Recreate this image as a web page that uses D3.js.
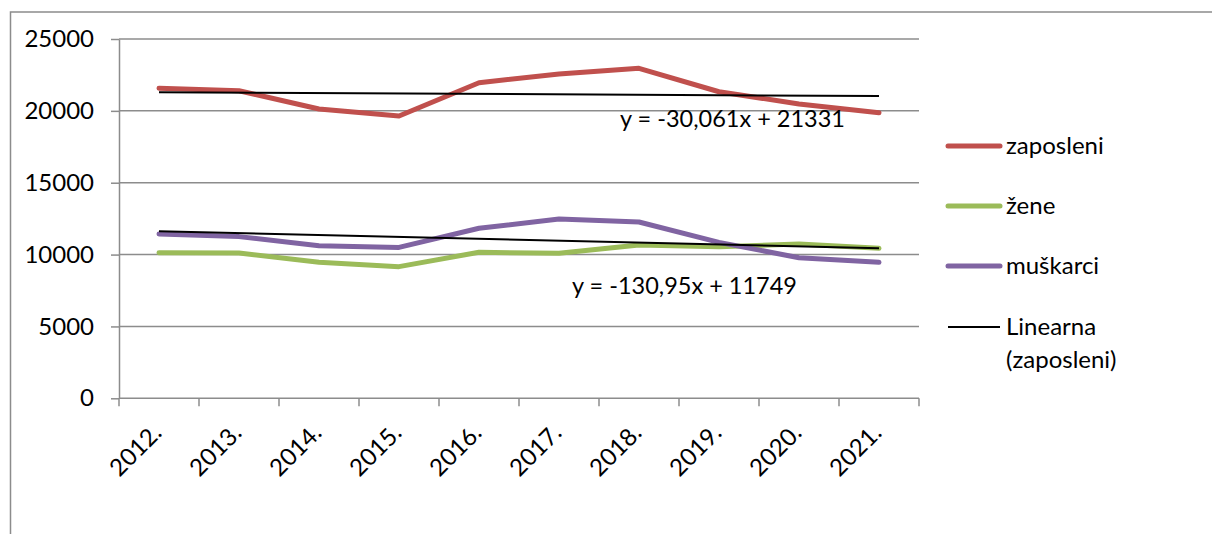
<!DOCTYPE html>
<html>
<head>
<meta charset="utf-8">
<script src="https://cdn.jsdelivr.net/npm/d3@7"></script>
<style>
  body { margin: 0; background: #fff; }
  text { font-family: Lato, "Open Sans", sans-serif; fill: #000; }
</style>
</head>
<body>
<div id="chart"></div>
<script>
// chart data
var years = ["2012.", "2013.", "2014.", "2015.", "2016.", "2017.", "2018.", "2019.", "2020.", "2021."];
var zaposleni = [21570, 21400, 20130, 19640, 21960, 22560, 22960, 21330, 20480, 19870];
var zene = [10130, 10110, 9460, 9160, 10160, 10090, 10670, 10550, 10740, 10440];
var muskarci = [11430, 11250, 10620, 10500, 11830, 12480, 12270, 10850, 9780, 9460];
var yTicks = [0, 5000, 10000, 15000, 20000, 25000];
// trend line coefficients (slope, intercept) as printed on the chart
var trendZaposleni = [-30.061, 21331];
var trendMuskarci = [-130.95, 11749];
var trendLabels = ["y = -30,061x + 21331", "y = -130,95x + 11749"];
var legendNames = ["zaposleni", "žene", "muškarci", "Linearna", "(zaposleni)"];

var svgWidth = 1212;
var svgHeight = 534;

var Margin = { top: 39, left: 119 };
var width = 800;
var height = 359.3;

var svg = d3.select("#chart")
  .append("svg")
  .attr("width", svgWidth)
  .attr("height", svgHeight);

// chart area border (only left and top visible)
svg.append("rect")
  .attr("x", 10.5)
  .attr("y", 12)
  .attr("width", 1300)
  .attr("height", 600)
  .attr("fill", "none")
  .attr("stroke", "#8c8c8c")
  .attr("stroke-width", 1.5);

var chartGroup = svg.append("g")
  .attr("transform", `translate(${Margin.left}, ${Margin.top})`);

var xScale = d3.scaleBand()
  .domain(years)
  .range([0, width]);

var yScale = d3.scaleLinear()
  .domain([0, 25000])
  .range([height, 0]);

// gridlines
chartGroup.append("g")
  .selectAll("line")
  .data(yTicks.filter(d => d > 0))
  .enter()
  .append("line")
  .attr("x1", 0)
  .attr("x2", width)
  .attr("y1", d => yScale(d))
  .attr("y2", d => yScale(d))
  .attr("stroke", "#8c8c8c")
  .attr("stroke-width", 1.5);

// y axis
var leftAxis = d3.axisLeft(yScale)
  .tickValues(yTicks)
  .tickSize(8)
  .tickSizeOuter(0)
  .tickPadding(17)
  .tickFormat(d => d);

var yAxis = chartGroup.append("g").call(leftAxis);
yAxis.select(".domain").attr("stroke", "#8c8c8c").attr("stroke-width", 1.5);
yAxis.selectAll(".tick line").attr("stroke", "#8c8c8c").attr("stroke-width", 1.5);
yAxis.selectAll(".tick text")
  .attr("font-size", "24px")
  .attr("font-family", "Lato, 'Open Sans', sans-serif")
  .attr("fill", "#000");

// x axis: ticks between categories
var xAxisG = chartGroup.append("g")
  .attr("transform", `translate(0, ${height})`);
xAxisG.append("line")
  .attr("x1", 0).attr("x2", width)
  .attr("y1", 0).attr("y2", 0)
  .attr("stroke", "#8c8c8c").attr("stroke-width", 1.5);
xAxisG.selectAll(".xtick")
  .data(years.concat(["end"]))
  .enter()
  .append("line")
  .attr("x1", (d, i) => i * xScale.step())
  .attr("x2", (d, i) => i * xScale.step())
  .attr("y1", 0)
  .attr("y2", 8)
  .attr("stroke", "#8c8c8c").attr("stroke-width", 1.5);

xAxisG.selectAll(".xlabel")
  .data(years)
  .enter()
  .append("text")
  .attr("transform", d => `translate(${xScale(d) + xScale.bandwidth() / 2 + 4}, 36) rotate(-45)`)
  .attr("text-anchor", "end")
  .attr("font-size", "24px")
  .text(d => d);

// lines
var cx = (d, i) => xScale(years[i]) + xScale.bandwidth() / 2;
var line = d3.line()
  .x(cx)
  .y(d => yScale(d));

var series = [
  { values: zaposleni, color: "#C0504D" },
  { values: zene, color: "#9BBB59" },
  { values: muskarci, color: "#8064A2" }
];

series.forEach(function(s) {
  chartGroup.append("path")
    .datum(s.values)
    .attr("d", line)
    .attr("fill", "none")
    .attr("stroke", s.color)
    .attr("stroke-width", 5)
    .attr("stroke-linejoin", "round")
    .attr("stroke-linecap", "round");
});

// trend lines
[trendZaposleni, trendMuskarci].forEach(function(t) {
  var pts = [0, years.length - 1].map(i => ({ i: i, v: t[0] * (i + 1) + t[1] }));
  chartGroup.append("line")
    .attr("x1", cx(null, pts[0].i))
    .attr("x2", cx(null, pts[1].i))
    .attr("y1", yScale(pts[0].v))
    .attr("y2", yScale(pts[1].v))
    .attr("stroke", "#000")
    .attr("stroke-width", 2);
});

// equations
svg.append("text")
  .attr("x", 620)
  .attr("y", 127)
  .attr("font-size", "23.5px")
  .text(trendLabels[0]);

svg.append("text")
  .attr("x", 572)
  .attr("y", 294)
  .attr("font-size", "23.5px")
  .text(trendLabels[1]);

// legend
var legendColors = ["#C0504D", "#9BBB59", "#8064A2"];
var legendY = [146, 206, 266];
legendColors.forEach(function(c, i) {
  svg.append("line")
    .attr("x1", 948).attr("x2", 1000)
    .attr("y1", legendY[i]).attr("y2", legendY[i])
    .attr("stroke", c)
    .attr("stroke-width", 5)
    .attr("stroke-linecap", "round");
  svg.append("text")
    .attr("x", 1006)
    .attr("y", legendY[i] + 8)
    .attr("font-size", "24px")
    .text(legendNames[i]);
});
svg.append("line")
  .attr("x1", 948).attr("x2", 1000)
  .attr("y1", 327).attr("y2", 327)
  .attr("stroke", "#000")
  .attr("stroke-width", 2);
svg.append("text")
  .attr("x", 1006)
  .attr("y", 335)
  .attr("font-size", "24px")
  .text(legendNames[3]);
svg.append("text")
  .attr("x", 1006)
  .attr("y", 368)
  .attr("font-size", "24px")
  .text(legendNames[4]);
</script>
</body>
</html>
